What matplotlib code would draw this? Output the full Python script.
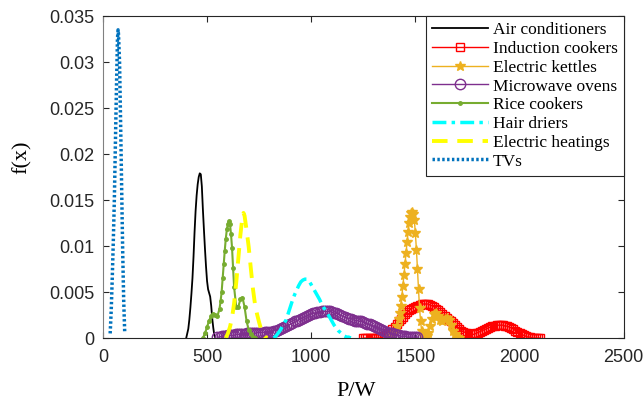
"""Plot power density curves of household appliances"""

import numpy as np
import matplotlib.pyplot as plt
from matplotlib.ticker import FuncFormatter

# Air conditioners
ac_power = [400, 410, 415, 420, 425, 430, 435, 440, 445, 450, 455, 460, 465, 470, 475, 480, 485, 490,
            495, 500, 505, 510, 515, 520, 525, 530, 535, 540]
ac_density = [0.0, 0.0010, 0.0020, 0.0033, 0.0048, 0.0065, 0.0088, 0.0115, 0.0138, 0.0155, 0.0167, 0.0175,
              0.0179, 0.0178, 0.0165, 0.0140, 0.0118, 0.0097, 0.0078, 0.0062, 0.0053, 0.0049, 0.0045, 0.0035,
              0.0021, 0.0011, 0.0003, 0.0]

# Induction cookers
ic_power = list(range(1250, 2110, 10))
ic_density = [0.0, 0.0, 0.0, 0.0, 0.0, 0.0, 0.0, 0.0, 0.0, 0.0001, 0.0002, 0.0003, 0.0005, 0.0007, 0.0010,
              0.0012, 0.0015, 0.0018, 0.0021, 0.0023, 0.0026, 0.0028, 0.0030, 0.0032, 0.0033, 0.0034, 0.0035,
              0.0036, 0.0037, 0.0037, 0.0037, 0.0037, 0.0036, 0.0035, 0.0034, 0.0032, 0.0030, 0.0028, 0.0026,
              0.0024, 0.0022, 0.0020, 0.0018, 0.0016, 0.0014, 0.0012, 0.0010, 0.0008, 0.0007, 0.0006, 0.0005,
              0.0004, 0.0004, 0.0004, 0.0005, 0.0006, 0.0007, 0.0008, 0.0009, 0.0010, 0.0011, 0.0012, 0.0013,
              0.0013, 0.0014, 0.0014, 0.0014, 0.0014, 0.0013, 0.0013, 0.0012, 0.0011, 0.0010, 0.0008, 0.0007,
              0.0006, 0.0004, 0.0003, 0.0002, 0.0001, 0.0001, 0.0, 0.0, 0.0, 0.0, 0.0]

# Electric kettles
ek_power = [1370, 1380, 1390, 1400, 1410, 1420, 1425, 1430, 1435, 1440, 1445, 1450, 1455, 1460, 1465, 1470,
            1475, 1480, 1485, 1490, 1495, 1500, 1505, 1510, 1515, 1520, 1525, 1530, 1535, 1545, 1555, 1560,
            1570, 1580, 1590, 1600, 1610, 1620, 1630, 1640, 1650, 1660, 1670, 1680, 1690, 1700, 1710]
ek_density = [0.0, 0.0002, 0.0004, 0.0008, 0.0013, 0.0021, 0.0027, 0.0035, 0.0045, 0.0057, 0.0068, 0.0080,
              0.0092, 0.0104, 0.0115, 0.0125, 0.0132, 0.0136, 0.0137, 0.0135, 0.0128, 0.0114, 0.0096, 0.0075,
              0.0053, 0.0033, 0.0018, 0.0008, 0.0003, 0.0001, 0.0002, 0.0005, 0.0013, 0.0021, 0.0026, 0.0027,
              0.0024, 0.0020, 0.0019, 0.0021, 0.0022, 0.0020, 0.0014, 0.0008, 0.0004, 0.0001, 0.0]

# Microwave ovens
mo_power = list(range(550, 1520, 10))
mo_density = [0.0001, 0.0001, 0.0002, 0.0002, 0.0002, 0.0003, 0.0003, 0.0003, 0.0003, 0.0004, 0.0004, 0.0004,
              0.0004, 0.0004, 0.0005, 0.0005, 0.0005, 0.0005, 0.0005, 0.0006, 0.0006, 0.0006, 0.0006, 0.0007,
              0.0007, 0.0007, 0.0007, 0.0008, 0.0008, 0.0009, 0.0010, 0.0011, 0.0012, 0.0013, 0.0014, 0.0015,
              0.0016, 0.0018, 0.0019, 0.0020, 0.0021, 0.0022, 0.0023, 0.0024, 0.0025, 0.0026, 0.0027, 0.0027,
              0.0028, 0.0028, 0.0029, 0.0029, 0.0029, 0.0029, 0.0029, 0.0028, 0.0027, 0.0027, 0.0026, 0.0025,
              0.0024, 0.0023, 0.0022, 0.0021, 0.0021, 0.0020, 0.0019, 0.0019, 0.0018, 0.0018, 0.0017, 0.0016,
              0.0015, 0.0015, 0.0014, 0.0013, 0.0012, 0.0011, 0.0010, 0.0009, 0.0008, 0.0007, 0.0006, 0.0005,
              0.0005, 0.0004, 0.0003, 0.0003, 0.0002, 0.0002, 0.0002, 0.0001, 0.0001, 0.0001, 0.0001, 0.0001,
              0.0001]

# Rice cookers
rc_power = [480, 490, 500, 510, 520, 530, 540, 550, 560, 565, 570, 575, 580, 585, 590, 595, 600, 605, 610,
            615, 620, 625, 630, 640, 650, 660, 670, 680, 690, 700, 710, 720, 730]
rc_density = [0.0, 0.0005, 0.0012, 0.0019, 0.0024, 0.0026, 0.0025, 0.0024, 0.0032, 0.0040, 0.0050, 0.0065,
              0.0080, 0.0095, 0.0108, 0.0118, 0.0124, 0.0127, 0.0124, 0.0113, 0.0098, 0.0076, 0.0055, 0.0034,
              0.0034, 0.0042, 0.0044, 0.0034, 0.0018, 0.0009, 0.0004, 0.0001, 0.0]

# Hair driers
hd_power = list(range(820, 1200, 10))
hd_density = [0.0, 0.0002, 0.0005, 0.0008, 0.0012, 0.0016, 0.0020, 0.0027, 0.0034, 0.0041, 0.0047, 0.0052,
              0.0057, 0.0061, 0.0063, 0.0064, 0.0064, 0.0062, 0.0058, 0.0054, 0.0050, 0.0046, 0.0042, 0.0037,
              0.0033, 0.0030, 0.0026, 0.0022, 0.0018, 0.0014, 0.0011, 0.0008, 0.0006, 0.0004, 0.0002, 0.0001,
              0.0001, 0.0]

# Electric heatings
eh_power = [590, 600, 610, 620, 630, 640, 650, 660, 670, 675, 680, 690, 700, 710, 720, 730, 740, 750, 760,
            770, 780, 790]
eh_density = [0.0, 0.0005, 0.0012, 0.0022, 0.0038, 0.0060, 0.0086, 0.0112, 0.0132, 0.0136, 0.0133, 0.0117,
              0.0099, 0.0076, 0.0054, 0.0037, 0.0026, 0.0017, 0.0009, 0.0004, 0.0001, 0.0]

# TVs
tv_power = [35, 40, 45, 50, 55, 60, 65, 70, 73, 75, 80, 85, 90, 95, 100, 105]
tv_density = [0.0005, 0.0030, 0.0065, 0.0105, 0.0150, 0.0210, 0.0270, 0.0325, 0.0335, 0.0330, 0.0300, 0.0235,
              0.0165, 0.0095, 0.0040, 0.0005]


def plot_densities():
    """Plot density of each appliance"""

    fig = plt.figure(figsize=(6.43, 4.01), dpi=100)
    ax = fig.add_axes([0.160, 0.157, 0.810, 0.803])

    # Appliance curves
    ax.plot(ac_power, ac_density, color='k', linewidth=1.3, label='Air conditioners')
    ax.plot(ic_power, ic_density, color='#FF0000', linewidth=1.0, marker='s', markersize=5.5,
            markerfacecolor='none', markeredgewidth=1.0, label='Induction cookers')
    ax.plot(ek_power, ek_density, color='#EDB120', linewidth=1.0, marker='*', markersize=7,
            label='Electric kettles')
    ax.plot(mo_power, mo_density, color='#7E2F8E', linewidth=1.0, marker='o', markersize=7.5,
            markerfacecolor='none', markeredgewidth=1.0, label='Microwave ovens')
    ax.plot(rc_power, rc_density, color='#77AC30', linewidth=1.5, marker='.', markersize=5,
            label='Rice cookers')
    ax.plot(hd_power, hd_density, color='#00FFFF', linewidth=2.5, linestyle=(0, (4, 1.5, 1, 1.5)),
            label='Hair driers')
    ax.plot(eh_power, eh_density, color='#FFFF00', linewidth=2.8, linestyle=(0, (4, 2.5)),
            label='Electric heatings')
    ax.plot(tv_power, tv_density, color='#0072BD', linewidth=2.5, linestyle=(0, (0.7, 0.7)), label='TVs')

    # Axes format
    ax.set_xlim(0, 2500)
    ax.set_ylim(0, 0.035)
    ax.set_xticks(np.arange(0, 2501, 500))
    ax.set_yticks(np.arange(0, 0.0351, 0.005))
    ax.yaxis.set_major_formatter(FuncFormatter(lambda v, p: f'{v:.3f}'.rstrip('0').rstrip('.') if v else '0'))
    ax.tick_params(direction='in', length=4, width=0.8, top=True, right=True, labelsize=13, colors='#262626')
    ax.tick_params(axis='x', pad=8)
    ax.tick_params(axis='y', pad=6)
    for label in ax.get_xticklabels() + ax.get_yticklabels():
        label.set_fontfamily('Liberation Sans')
    for side in ['top', 'right', 'bottom']:
        ax.spines[side].set_color('#262626')
    ax.spines['left'].set_color('#808080')

    ax.set_xlabel('P/W', fontfamily='Liberation Serif', fontsize=16)
    ax.set_ylabel('f(x)', fontfamily='Liberation Serif', fontsize=16)
    ax.xaxis.set_label_coords(0.487, -0.138)
    ax.yaxis.set_label_coords(-0.136, 0.56)

    # Legend
    leg = ax.legend(loc='upper right', prop={'family': 'Liberation Serif', 'size': 12.5}, handlelength=3.2,
                    handletextpad=0.3, labelspacing=0.15, borderaxespad=0, fancybox=False, framealpha=1,
                    borderpad=0.35)
    leg.get_frame().set_edgecolor('#262626')
    leg.get_frame().set_linewidth(0.8)

    fig.savefig('out.png', dpi=100)


plot_densities()
